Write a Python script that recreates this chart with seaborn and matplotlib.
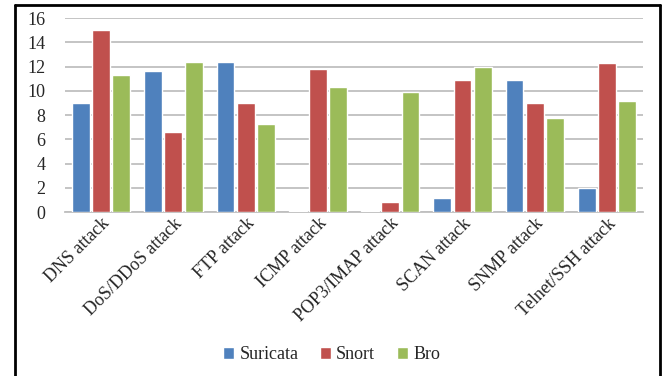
import seaborn as sns
import pandas as pd
import matplotlib.pyplot as plt
from matplotlib.lines import Line2D
from matplotlib import font_manager

attacks = ['DNS attack', 'DoS/DDoS attack', 'FTP attack', 'ICMP attack',
           'POP3/IMAP attack', 'SCAN attack', 'SNMP attack', 'Telnet/SSH attack']
suricata = [9.0, 11.6, 12.4, 0.1, 0.1, 1.2, 10.9, 2.0]
snort = [15.0, 6.6, 9.0, 11.8, 0.85, 10.9, 9.0, 12.3]
bro = [11.3, 12.4, 7.25, 10.3, 9.9, 12.0, 7.75, 9.2]
tools = ['Suricata', 'Snort', 'Bro']
colors = ['#4F81BD', '#C0504D', '#9BBB59']

data = pd.DataFrame({'attack': attacks, 'Suricata': suricata, 'Snort': snort, 'Bro': bro})
data = data.melt(id_vars='attack', var_name='tool', value_name='value')

sns.set_style('white')
plt.rcParams['font.family'] = ['Liberation Serif', 'DejaVu Serif']
print(font_manager.findfont('Liberation Serif'))

fig = plt.figure(figsize=(6.63, 3.76), dpi=100)
ax = fig.add_axes([0.098, 0.436, 0.872, 0.516])

sns.barplot(data=data, x='attack', y='value', hue='tool', hue_order=tools,
            palette=colors, width=0.84, gap=0.12, saturation=1, ax=ax, zorder=3)

ax.set_ylim(0, 16)
ax.set_yticks(range(0, 17, 2))
ax.set_xlim(-0.5, len(attacks) - 0.5)
ax.yaxis.grid(True, color='#BFBFBF', linewidth=1.3, zorder=0)
ax.set_axisbelow(True)
for s in ['top', 'right', 'left']:
    ax.spines[s].set_visible(False)
ax.spines['bottom'].set_color('#BFBFBF')
ax.spines['bottom'].set_linewidth(1.3)
ax.set_xlabel('')
ax.set_ylabel('')
ax.tick_params(axis='y', labelsize=13, length=0, pad=14)
ax.tick_params(axis='x', labelsize=13, length=0, pad=2)
plt.setp(ax.get_xticklabels(), rotation=45, ha='right', rotation_mode='anchor')

handles, labels = ax.get_legend_handles_labels()
ax.get_legend().remove()
serif = font_manager.FontProperties(family='Liberation Serif', size=13)
leg = fig.legend(handles, labels, loc='center', bbox_to_anchor=(0.5, 0.056), ncol=3,
                 frameon=False, prop=serif, handlelength=0.6, handleheight=0.6,
                 handletextpad=0.3, columnspacing=1.2)

# black frame around the figure (open at the bottom)
x0, x1, yt = 15 / 663, 660 / 663, 1 - 5 / 376
for xs, ys in [([x0, x0], [0, yt]), ([x0, x1], [yt, yt]), ([x1, x1], [yt, 0])]:
    fig.add_artist(Line2D(xs, ys, color='black', linewidth=2, transform=fig.transFigure))

fig.savefig('out.png', dpi=100)
